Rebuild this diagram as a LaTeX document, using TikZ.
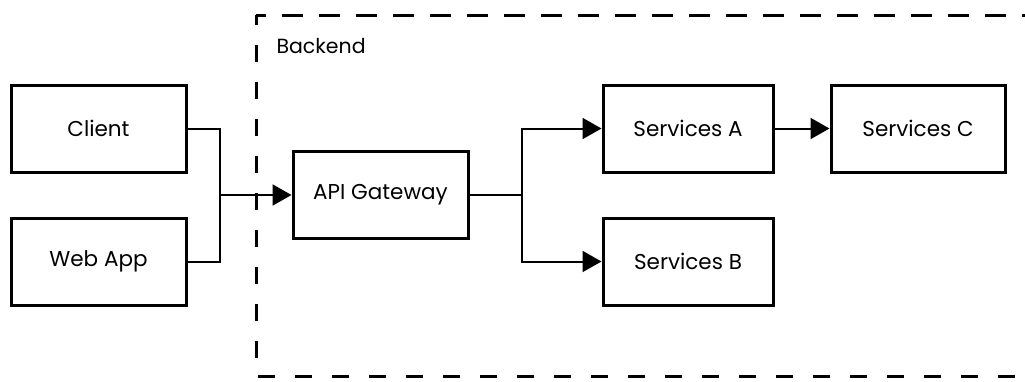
\documentclass[tikz,border=0pt]{standalone}
\usepackage{fontspec}
\setmainfont{Poppins}
\usetikzlibrary{arrows.meta}
\begin{document}
\begin{tikzpicture}[x=1pt,y=-1pt,
  box/.style={draw, line width=3pt, minimum width=175pt, minimum height=87pt,
    inner sep=0pt, font=\fontsize{21.5}{25}\selectfont},
  link/.style={line width=2pt, -{Triangle[length=19pt,width=21pt]}},
  wire/.style={line width=2pt},
  group/.style={draw, line width=3pt, dash pattern=on 17pt off 20pt, dash phase=7pt}]
\useasboundingbox (0,0) rectangle (1025,381);
\begin{scope}
  \clip (0,0) rectangle (1025,381);
  \draw[group] (256,15) -- (256,376) -- (1060,376) -- (1060,15) -- cycle;
  \draw[group] (256,15) -- (1060,15);
\end{scope}
\node[anchor=west, font=\fontsize{20.5}{24}\selectfont] (backend) at (273,46) {Backend};

\node[box] (client) at (98.5,128.5) {Client};
\node[box] (web) at (98.5,261.5) {Web App};
\node[box] (api) at (380.5,195) {API Gateway};
\node[box, minimum width=170pt] (sa) at (688,128.5) {Services A};
\node[box, minimum width=170pt] (sb) at (688,261.5) {Services B};
\node[box, minimum width=174pt] (sc) at (918,128.5) {Services C};

\coordinate (join) at (220,195);
\coordinate (fork) at (522,195);

\draw[wire] (client.east) -| (join);
\draw[wire] (web.east) -| (join);
\draw[link] (join) -- (api.west);
\draw[wire] (api.east) -- (fork);
\draw[link] (fork) |- (sa.west);
\draw[link] (fork) |- (sb.west);
\draw[link] (sa.east) -- (sc.west);
\end{tikzpicture}
\end{document}
